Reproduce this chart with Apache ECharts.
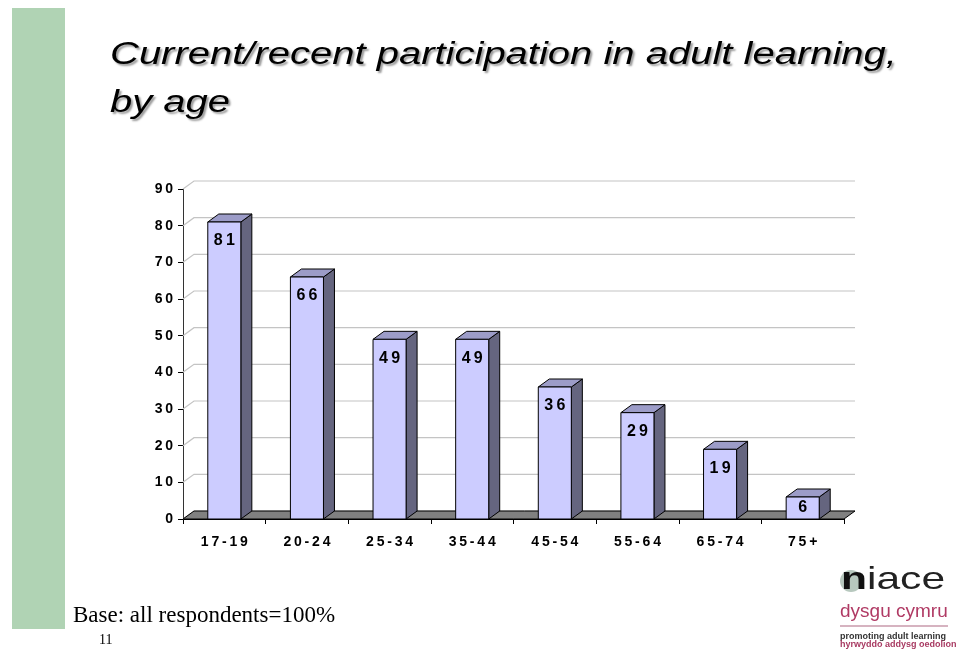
<!DOCTYPE html>
<html>
<head>
<meta charset="utf-8">
<script src="https://cdn.jsdelivr.net/npm/echarts@6/dist/echarts.min.js"></script>
<style>
  html, body { margin: 0; padding: 0; background: #ffffff; }
  #chart { width: 956px; height: 650px; }
</style>
</head>
<body>
<div id="chart"></div>
<script>
// Participation by age group (%)
const categories = ['17-19', '20-24', '25-34', '35-44', '45-54', '55-64', '65-74', '75+'];
const values = [81, 66, 49, 49, 36, 29, 19, 6];

// Value axis range
const yMin = 0;
const yMax = 90;
const yStep = 10;
const yTicks = [0, 10, 20, 30, 40, 50, 60, 70, 80, 90];

// Depth offset of the pseudo-3D projection (px)
const DX = 11;
const DY = -8;

// Horizontal stretch of the slide lettering
const WIDE = 1.29;

const FONT = "'Liberation Sans', Arial, sans-serif";

// Spread characters slightly, like the wide tracking of the labels
function spaced(s) {
  return String(s).split('').join('\u2009');
}

const chart = echarts.init(document.getElementById('chart'), null, { renderer: 'canvas' });

// Back wall gridlines with the diagonal running back from each y tick
function renderWall(params, api) {
  const cs = params.coordSys;
  const y = api.coord([0, api.value(1)])[1];
  return {
    type: 'polyline',
    shape: {
      points: [
        [cs.x, y],
        [cs.x + DX, y + DY],
        [cs.x + cs.width + DX, y + DY]
      ]
    },
    style: { stroke: '#c4c4c4', lineWidth: 1.2, fill: null }
  };
}

// Grey floor under the bars
function renderFloor(params, api) {
  const cs = params.coordSys;
  const y = api.coord([0, yMin])[1];
  return {
    type: 'polygon',
    shape: {
      points: [
        [cs.x, y],
        [cs.x + cs.width, y],
        [cs.x + cs.width + DX, y + DY],
        [cs.x + DX, y + DY]
      ]
    },
    style: { fill: '#808080', stroke: '#000000', lineWidth: 1 }
  };
}

// Box-shaped bars: front face, side face, top face and value label
function renderBar(params, api) {
  const i = api.value(0);
  const v = api.value(1);
  const base = api.coord([i, yMin]);
  const top = api.coord([i, v]);
  const bw = api.size([1, 0])[0] * 0.4;
  const x0 = base[0] - bw / 2;
  const x1 = base[0] + bw / 2;
  const yt = top[1];
  const yb = base[1];
  const h = yb - yt;
  const labelOff = Math.min(19, h / 2);
  return {
    type: 'group',
    children: [
      {
        type: 'polygon',
        shape: { points: [[x1, yt], [x1 + DX, yt + DY], [x1 + DX, yb + DY], [x1, yb]] },
        style: { fill: '#65657f', stroke: '#000000', lineWidth: 1 }
      },
      {
        type: 'polygon',
        shape: { points: [[x0, yt], [x0 + DX, yt + DY], [x1 + DX, yt + DY], [x1, yt]] },
        style: { fill: '#9c9cc8', stroke: '#000000', lineWidth: 1 }
      },
      {
        type: 'rect',
        shape: { x: x0, y: yt, width: bw, height: h },
        style: { fill: '#ccccff', stroke: '#000000', lineWidth: 1 }
      },
      {
        type: 'text',
        style: {
          text: spaced(v),
          x: base[0],
          y: yt + labelOff,
          align: 'center',
          verticalAlign: 'middle',
          font: 'bold 16px ' + FONT,
          fill: '#000000'
        }
      }
    ]
  };
}

const titleStyle = {
  verticalAlign: 'middle',
  font: 'italic 31px ' + FONT,
  fill: '#000000',
  textShadowColor: 'rgba(0,0,0,0.4)',
  textShadowBlur: 2,
  textShadowOffsetX: 2,
  textShadowOffsetY: 2
};

const option = {
  animation: false,
  backgroundColor: '#ffffff',
  grid: { left: 183, right: 112, top: 189, bottom: 131, containLabel: false },
  xAxis: {
    type: 'category',
    data: categories,
    axisLine: { show: true, lineStyle: { color: '#000000', width: 1 } },
    axisTick: { show: true, length: 5, lineStyle: { color: '#000000' } },
    axisLabel: {
      margin: 16,
      fontFamily: FONT,
      fontWeight: 'bold',
      fontSize: 14,
      color: '#000000',
      formatter: spaced
    },
    splitLine: { show: false }
  },
  yAxis: {
    type: 'value',
    min: yMin,
    max: yMax,
    interval: yStep,
    axisLine: { show: true, lineStyle: { color: '#333333', width: 1 } },
    axisTick: { show: true, length: 5, lineStyle: { color: '#000000' } },
    axisLabel: {
      margin: 10,
      fontFamily: FONT,
      fontWeight: 'bold',
      fontSize: 14,
      color: '#000000',
      formatter: spaced
    },
    splitLine: { show: false }
  },
  series: [
    {
      type: 'custom',
      name: 'wall',
      z: 1,
      silent: true,
      renderItem: renderWall,
      encode: { x: 0, y: 1 },
      data: yTicks.map(function (t) { return [0, t]; })
    },
    {
      type: 'custom',
      name: 'floor',
      z: 2,
      silent: true,
      renderItem: renderFloor,
      encode: { x: 0, y: 1 },
      data: [[0, yMin]]
    },
    {
      type: 'custom',
      name: 'participation',
      z: 3,
      renderItem: renderBar,
      encode: { x: 0, y: 1 },
      data: values.map(function (v, i) { return [i, v]; })
    }
  ],
  graphic: [
    // green side band
    {
      type: 'rect',
      left: 12, top: 8, z: 0,
      shape: { width: 53, height: 621 },
      style: { fill: '#b0d3b4' }
    },
    // title
    {
      type: 'text',
      z: 10,
      x: 110, y: 55, scaleX: WIDE,
      style: Object.assign({ text: 'Current/recent participation in adult learning,', x: 0, y: 0 }, titleStyle)
    },
    {
      type: 'text',
      z: 10,
      x: 110, y: 103, scaleX: WIDE,
      style: Object.assign({ text: 'by age', x: 0, y: 0 }, titleStyle)
    },
    // footnote and page number
    {
      type: 'text',
      z: 10,
      style: {
        text: 'Base: all respondents=100%',
        x: 73, y: 616,
        verticalAlign: 'middle',
        font: "23px 'Liberation Serif', 'Times New Roman', serif",
        fill: '#000000'
      }
    },
    {
      type: 'text',
      z: 10,
      style: {
        text: '11',
        x: 99, y: 640,
        verticalAlign: 'middle',
        font: "14px 'Liberation Serif', 'Times New Roman', serif",
        fill: '#000000'
      }
    },
    // niace logo
    {
      type: 'circle',
      z: 10,
      shape: { cx: 851, cy: 581, r: 11 },
      style: { fill: '#b7c8be' }
    },
    {
      type: 'text', z: 11,
      x: 841, y: 580, scaleX: 1.33,
      style: {
        text: '{n|n}{r|iace}',
        x: 0, y: 0,
        verticalAlign: 'middle',
        rich: {
          n: { fontFamily: FONT, fontSize: 32, fontWeight: 'bold', fill: '#111111' },
          r: { fontFamily: FONT, fontSize: 32, fill: '#222222' }
        }
      }
    },
    {
      type: 'text', z: 11,
      style: { text: 'dysgu cymru', x: 840, y: 612, verticalAlign: 'middle', font: '19px ' + FONT, fill: '#b03a64' }
    },
    {
      type: 'line', z: 11,
      shape: { x1: 840, y1: 626, x2: 948, y2: 626 },
      style: { stroke: '#c99aab', lineWidth: 1.5 }
    },
    {
      type: 'text', z: 11,
      style: { text: 'promoting adult learning', x: 840, y: 637, verticalAlign: 'middle', font: 'bold 9px ' + FONT, fill: '#333333' }
    },
    {
      type: 'text', z: 11,
      style: { text: 'hyrwyddo addysg oedolion', x: 840, y: 645, verticalAlign: 'middle', font: 'bold 9px ' + FONT, fill: '#a83a62' }
    }
  ]
};

chart.setOption(option);
</script>
</body>
</html>
